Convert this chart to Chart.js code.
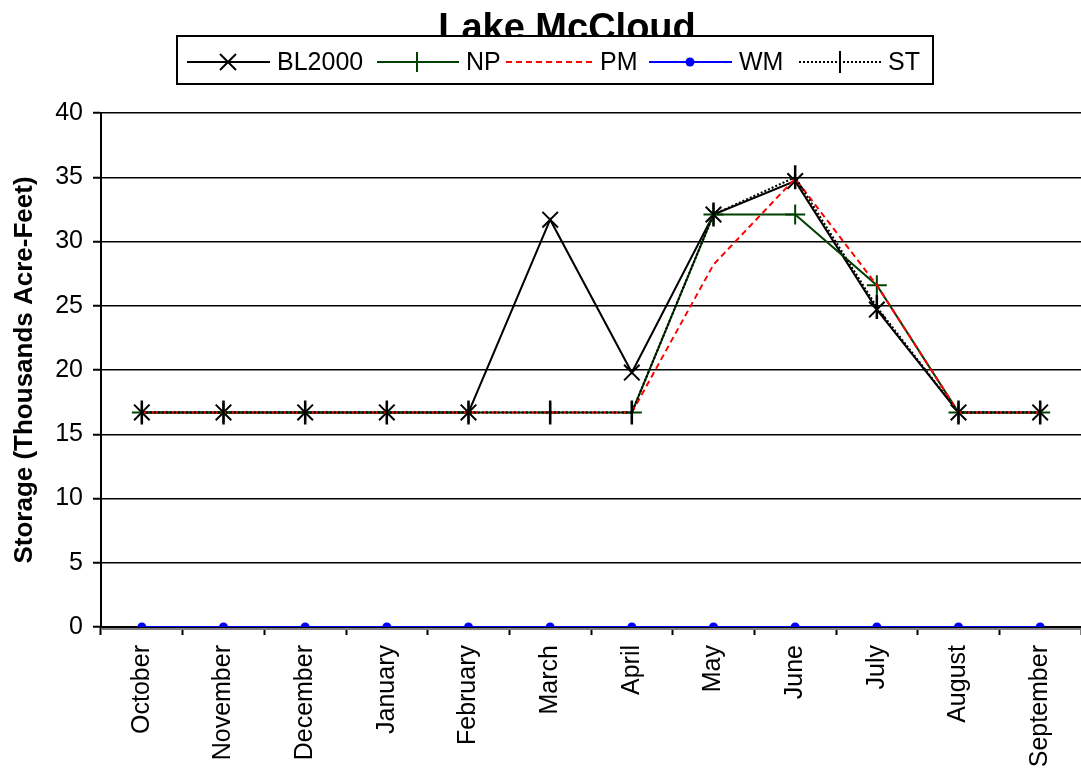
<!DOCTYPE html>
<html>
<head>
<meta charset="utf-8">
<script src="https://cdn.jsdelivr.net/npm/chart.js@4.4.1/dist/chart.umd.min.js"></script>
<style>
  html, body { margin: 0; padding: 0; background: #fff; }
  #wrap { width: 1081px; height: 775px; }
</style>
</head>
<body>
<div id="wrap"><canvas id="c" width="1081" height="775"></canvas></div>
<script>
const chartTitle = 'Lake McCloud';
const yAxisTitle = 'Storage (Thousands Acre-Feet)';
const categories = ['October','November','December','January','February','March','April','May','June','July','August','September'];
const bl2000 = [16.7,16.7,16.7,16.7,16.7,31.7,19.8,32.1,34.7,24.7,16.7,16.7];
const np     = [16.7,16.7,16.7,16.7,16.7,16.7,16.7,32.1,32.1,26.6,16.7,16.7];
const pm     = [16.7,16.7,16.7,16.7,16.7,16.7,16.7,28.2,34.9,26.6,16.7,16.7];
const wm     = [0,0,0,0,0,0,0,0,0,0,0,0];
const st     = [16.7,16.7,16.7,16.7,16.7,16.7,16.7,32.1,35.0,24.9,16.7,16.7];
const yMin = 0, yMax = 40, yStep = 5;

const FONT = "'Liberation Sans', Arial, sans-serif";
const GREEN = '#004000';

const legendItems = [
  {label:'BL2000', color:'#000', dash:[], lineX:[187,270], markX:228, textX:277, marker:'x'},
  {label:'NP', color:GREEN, dash:[], lineX:[377,459], markX:417, textX:466, marker:'plus'},
  {label:'PM', color:'#ff0000', dash:[6,4], lineX:[506,593], markX:null, textX:600, marker:null},
  {label:'WM', color:'#0000ff', dash:[], lineX:[649,732], markX:690, textX:739, marker:'dot'},
  {label:'ST', color:'#000', dash:[2,2], lineX:[799,881], markX:840, textX:888, marker:'bar'}
];

const titleLegendPlugin = {
  id: 'titleLegend',
  afterDraw(chart) {
    const ctx = chart.ctx;
    ctx.save();
    const a = chart.chartArea;
    ctx.strokeStyle = '#808080';
    ctx.lineWidth = 2;
    ctx.beginPath();
    ctx.moveTo(a.left + 1, a.bottom + 2);
    ctx.lineTo(a.right, a.bottom + 2);
    ctx.stroke();
    // title
    ctx.fillStyle = '#000';
    ctx.font = "bold 38px " + FONT;
    ctx.textAlign = 'center';
    ctx.textBaseline = 'alphabetic';
    ctx.fillText(chartTitle, 567, 40);
    // legend box
    ctx.fillStyle = '#fff';
    ctx.fillRect(177, 36, 756, 48);
    ctx.strokeStyle = '#000';
    ctx.lineWidth = 2;
    ctx.strokeRect(177, 36, 756, 48);
    const cy = 62;
    legendItems.forEach(it => {
      ctx.save();
      ctx.strokeStyle = it.color;
      ctx.lineWidth = 2;
      ctx.setLineDash(it.dash);
      ctx.beginPath();
      ctx.moveTo(it.lineX[0], cy);
      ctx.lineTo(it.lineX[1], cy);
      ctx.stroke();
      ctx.setLineDash([]);
      const mx = it.markX;
      if (it.marker === 'x') {
        const r = 8;
        ctx.beginPath();
        ctx.moveTo(mx - r, cy - r); ctx.lineTo(mx + r, cy + r);
        ctx.moveTo(mx - r, cy + r); ctx.lineTo(mx + r, cy - r);
        ctx.stroke();
      } else if (it.marker === 'plus') {
        ctx.beginPath();
        ctx.moveTo(mx, cy - 10); ctx.lineTo(mx, cy + 10);
        ctx.stroke();
      } else if (it.marker === 'dot') {
        ctx.fillStyle = it.color;
        ctx.beginPath();
        ctx.arc(mx, cy, 4.5, 0, Math.PI * 2);
        ctx.fill();
      } else if (it.marker === 'bar') {
        ctx.beginPath();
        ctx.moveTo(mx, cy - 11); ctx.lineTo(mx, cy + 11);
        ctx.stroke();
      }
      ctx.restore();
      ctx.fillStyle = '#000';
      ctx.font = "25px " + FONT;
      ctx.textAlign = 'left';
      ctx.textBaseline = 'middle';
      ctx.fillText(it.label, it.textX, cy + 1);
    });
    ctx.restore();
  }
};

const ctx = document.getElementById('c').getContext('2d');
new Chart(ctx, {
  type: 'line',
  data: {
    labels: categories,
    datasets: [
      {label:'BL2000', data: bl2000, borderColor:'#000', backgroundColor:'#000', borderWidth:2,
       pointStyle:'crossRot', pointRadius:11, pointBorderWidth:2, pointBorderColor:'#000', fill:false, tension:0, order:5},
      {label:'NP', data: np, borderColor:GREEN, backgroundColor:GREEN, borderWidth:2,
       pointStyle:'cross', pointRadius:10, pointBorderWidth:2, pointBorderColor:GREEN, fill:false, tension:0, order:4},
      {label:'PM', data: pm, borderColor:'#ff0000', borderWidth:2, borderDash:[6,4],
       pointRadius:0, fill:false, tension:0, order:3},
      {label:'WM', data: wm, borderColor:'#0000ff', backgroundColor:'#0000ff', borderWidth:2,
       pointStyle:'circle', pointRadius:4.5, pointBorderWidth:0, pointBackgroundColor:'#0000ff', fill:false, tension:0, order:2},
      {label:'ST', data: st, borderColor:'#000', backgroundColor:'#000', borderWidth:2, borderDash:[2,2],
       pointStyle:'line', pointRotation:90, pointRadius:12, pointBorderWidth:2.5, pointBorderColor:'#000', fill:false, tension:0, order:1}
    ]
  },
  options: {
    responsive: false,
    animation: false,
    layout: { autoPadding: false, padding: { top: 113, right: -2, bottom: 0, left: 0 } },
    plugins: { legend: { display: false }, title: { display: false }, tooltip: { enabled: false } },
    scales: {
      x: {
        offset: true,
        grid: { offset: true, drawOnChartArea: false, drawTicks: true, tickLength: 8, tickColor: '#000', tickWidth: 2 },
        border: { color: '#000', width: 2 },
        ticks: { color: '#000', font: { size: 25, family: FONT }, maxRotation: 90, minRotation: 90, padding: 10, autoSkip: false },
        afterFit(s) { s.height = 148; s.paddingLeft = 0; s.paddingRight = 0; }
      },
      y: {
        min: yMin, max: yMax,
        ticks: { stepSize: yStep, color: '#000', font: { size: 25, family: FONT }, padding: 10 },
        grid: { color: '#000', lineWidth: 1.5, tickLength: 8, tickColor: '#000', tickWidth: 2 },
        border: { color: '#000', width: 2 },
        title: { display: true, text: yAxisTitle, color: '#000', font: { size: 26, weight: 'bold', family: FONT, lineHeight: 1.2 }, padding: { top: 9, bottom: 0 } },
        afterFit(s) { s.width = 101; s.paddingTop = 0; s.paddingBottom = 0; }
      }
    }
  },
  plugins: [titleLegendPlugin]
});
</script>
</body>
</html>
